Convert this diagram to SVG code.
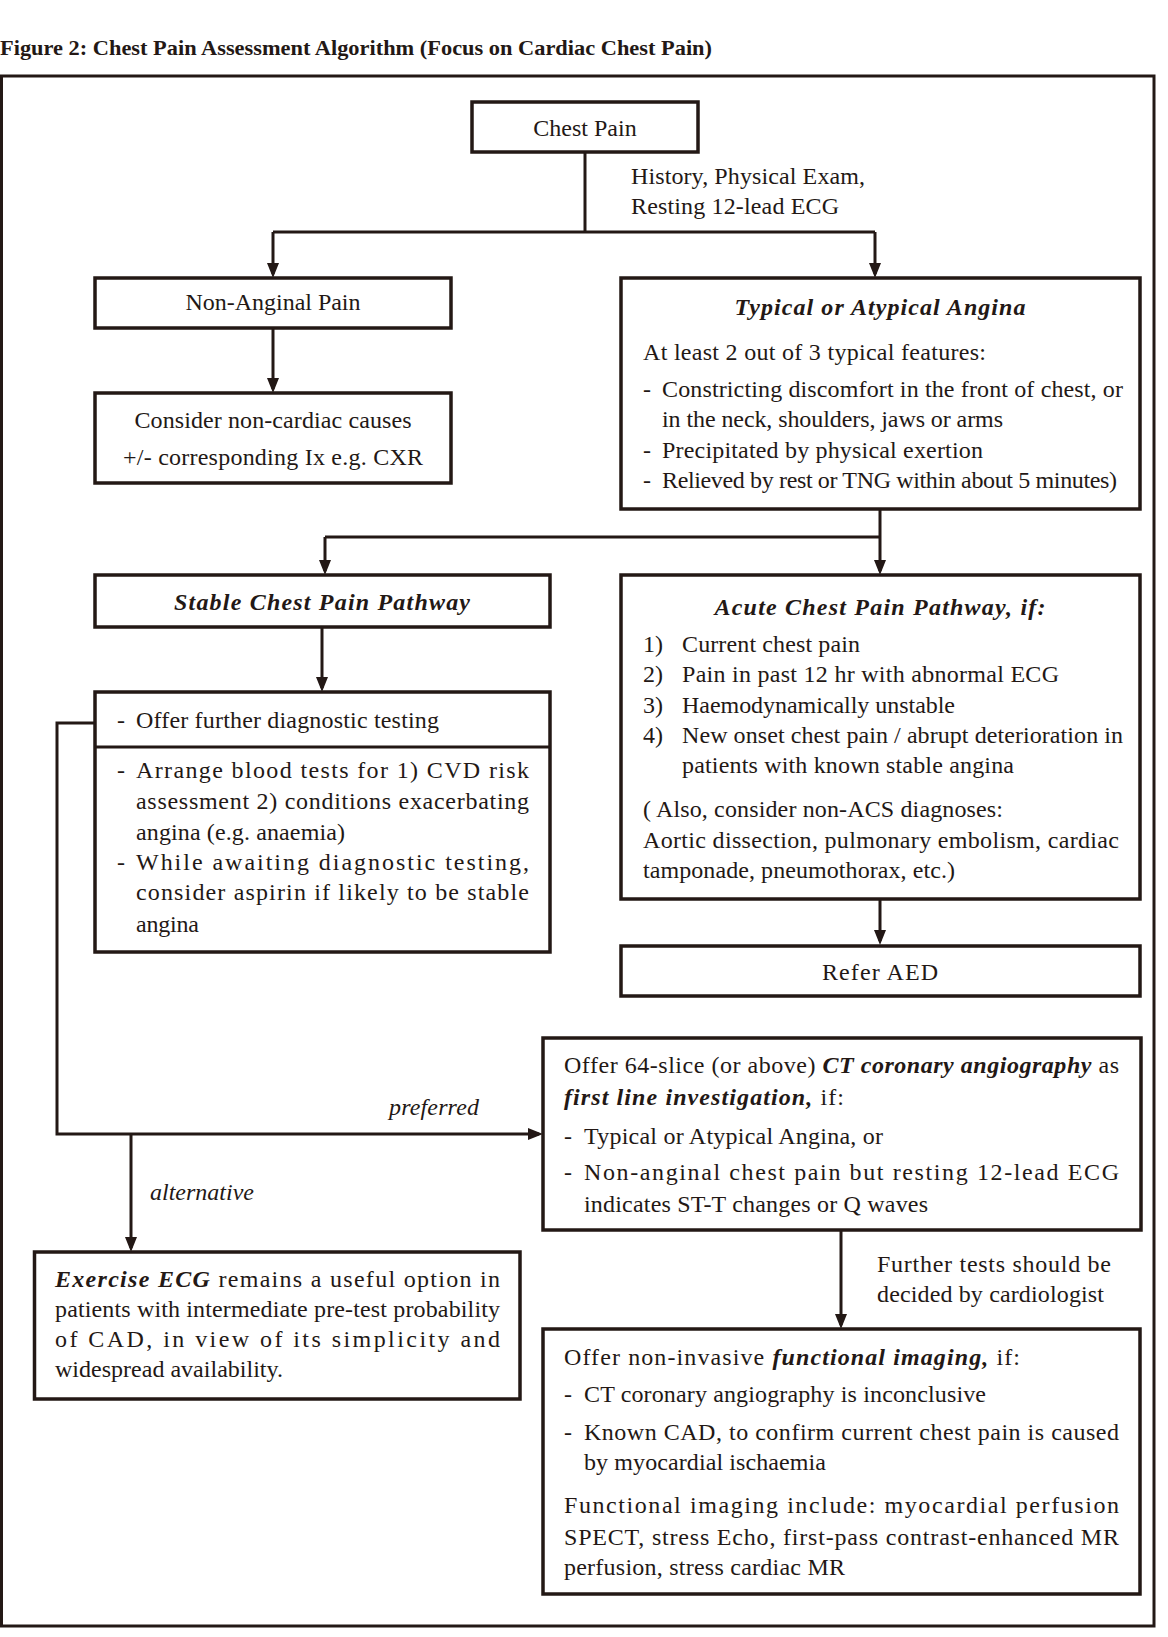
<svg xmlns="http://www.w3.org/2000/svg" width="1168" height="1637" viewBox="0 0 1168 1637">
<defs>
<style>
.t{font-family:"Liberation Serif","Times New Roman",serif;font-size:24px;fill:#231815}
.c{text-anchor:middle}
.bi{font-weight:bold;font-style:italic}
.i{font-style:italic}
.box{fill:#fff;stroke:#231815;stroke-width:3.5}
.conn{fill:none;stroke:#231815;stroke-width:3}
.frame{fill:none;stroke:#231815;stroke-width:3}
</style>
<marker id="arr" viewBox="0 0 15 12" refX="11" refY="6" markerWidth="15" markerHeight="12" markerUnits="userSpaceOnUse" orient="auto">
<path d="M0,0 L15,6 L0,12 Z" fill="#231815"/>
</marker>
</defs>
<rect width="1168" height="1637" fill="#fff"/>
<text class="t" x="0" y="55" style="font-size:21px;font-weight:bold" textLength="712" lengthAdjust="spacingAndGlyphs">Figure 2: Chest Pain Assessment Algorithm (Focus on Cardiac Chest Pain)</text>
<rect class="frame" x="1.5" y="76" width="1152.5" height="1550"/>

<g id="connectors">
<path class="conn" d="M585,152 V232"/>
<path class="conn" d="M273,232 H875"/>
<path class="conn" d="M273,232 V274" marker-end="url(#arr)"/>
<path class="conn" d="M875,232 V274" marker-end="url(#arr)"/>
<path class="conn" d="M273,328 V389" marker-end="url(#arr)"/>
<path class="conn" d="M880,509 V571" marker-end="url(#arr)"/>
<path class="conn" d="M325,537 H880"/>
<path class="conn" d="M325,537 V571" marker-end="url(#arr)"/>
<path class="conn" d="M322,627 V688" marker-end="url(#arr)"/>
<path class="conn" d="M95,723 H57 V1134 H539" marker-end="url(#arr)"/>
<path class="conn" d="M131,1134 V1248" marker-end="url(#arr)"/>
<path class="conn" d="M880,899 V941" marker-end="url(#arr)"/>
<path class="conn" d="M841,1230 V1325" marker-end="url(#arr)"/>
<text class="t" x="631" y="184" textLength="234">History, Physical Exam,</text>
<text class="t" x="631" y="214" textLength="208">Resting 12-lead ECG</text>
<text class="t i" x="389" y="1115" textLength="90">preferred</text>
<text class="t i" x="150" y="1200" textLength="104">alternative</text>
<text class="t" x="877" y="1272" textLength="234" lengthAdjust="spacing">Further tests should be</text>
<text class="t" x="877" y="1302" textLength="227">decided by cardiologist</text>
</g>

<g id="chest-pain">
<rect class="box" x="472" y="102" width="226" height="50"/>
<text class="t c" x="585" y="136">Chest Pain</text>
</g>

<g id="non-anginal">
<rect class="box" x="95" y="278" width="356" height="50"/>
<text class="t c" x="273" y="310" textLength="175">Non-Anginal Pain</text>
</g>

<g id="non-cardiac">
<rect class="box" x="95" y="393" width="356" height="90"/>
<text class="t c" x="273" y="428" textLength="277">Consider non-cardiac causes</text>
<text class="t c" x="273" y="465" textLength="300">+/- corresponding Ix e.g. CXR</text>
</g>

<g id="typical-angina">
<rect class="box" x="621" y="278" width="519" height="231"/>
<text class="t c bi" x="880" y="315" textLength="291">Typical or Atypical Angina</text>
<text class="t" x="643" y="360" textLength="343">At least 2 out of 3 typical features:</text>
<text class="t" x="643" y="397">-</text>
<text class="t" x="662" y="397" textLength="461" lengthAdjust="spacing">Constricting discomfort in the front of chest, or</text>
<text class="t" x="662" y="427" textLength="341">in the neck, shoulders, jaws or arms</text>
<text class="t" x="643" y="458">-</text>
<text class="t" x="662" y="458" textLength="321">Precipitated by physical exertion</text>
<text class="t" x="643" y="488">-</text>
<text class="t" x="662" y="488" textLength="455">Relieved by rest or TNG within about 5 minutes)</text>
</g>

<g id="stable-pathway">
<rect class="box" x="95" y="575" width="455" height="52"/>
<text class="t c bi" x="322" y="610" textLength="296">Stable Chest Pain Pathway</text>
</g>

<g id="diagnostic-testing">
<rect class="box" x="95" y="692" width="455" height="260"/>
<path class="conn" d="M95,747 H550"/>
<text class="t" x="117" y="728">-</text>
<text class="t" x="136" y="728" textLength="303">Offer further diagnostic testing</text>
<text class="t" x="117" y="778">-</text>
<text class="t" x="136" y="778" textLength="393" lengthAdjust="spacing">Arrange blood tests for 1) CVD risk</text>
<text class="t" x="136" y="809" textLength="393" lengthAdjust="spacing">assessment 2) conditions exacerbating</text>
<text class="t" x="136" y="840" textLength="209">angina (e.g. anaemia)</text>
<text class="t" x="117" y="870">-</text>
<text class="t" x="136" y="870" textLength="393" lengthAdjust="spacing">While awaiting diagnostic testing,</text>
<text class="t" x="136" y="900" textLength="393" lengthAdjust="spacing">consider aspirin if likely to be stable</text>
<text class="t" x="136" y="932" textLength="63">angina</text>
</g>

<g id="acute-pathway">
<rect class="box" x="621" y="575" width="519" height="324"/>
<text class="t c bi" x="880" y="615" textLength="331">Acute Chest Pain Pathway, if:</text>
<text class="t" x="643" y="652">1)</text>
<text class="t" x="682" y="652" textLength="178">Current chest pain</text>
<text class="t" x="643" y="682">2)</text>
<text class="t" x="682" y="682" textLength="377">Pain in past 12 hr with abnormal ECG</text>
<text class="t" x="643" y="713">3)</text>
<text class="t" x="682" y="713" textLength="273">Haemodynamically unstable</text>
<text class="t" x="643" y="743">4)</text>
<text class="t" x="682" y="743" textLength="441" lengthAdjust="spacing">New onset chest pain / abrupt deterioration in</text>
<text class="t" x="682" y="773" textLength="332">patients with known stable angina</text>
<text class="t" x="643" y="817" textLength="360">( Also, consider non-ACS diagnoses:</text>
<text class="t" x="643" y="848" textLength="476" lengthAdjust="spacing">Aortic dissection, pulmonary embolism, cardiac</text>
<text class="t" x="643" y="878" textLength="312">tamponade, pneumothorax, etc.)</text>
</g>

<g id="refer-aed">
<rect class="box" x="621" y="946" width="519" height="50"/>
<text class="t c" x="880" y="980" textLength="116">Refer AED</text>
</g>

<g id="ct-angiography">
<rect class="box" x="543" y="1038" width="598" height="192"/>
<text class="t" x="564" y="1073" textLength="555" lengthAdjust="spacing">Offer 64-slice (or above) <tspan class="bi">CT coronary angiography</tspan> as</text>
<text class="t" x="564" y="1105" textLength="280"><tspan class="bi">first line investigation,</tspan> if:</text>
<text class="t" x="564" y="1144">-</text>
<text class="t" x="584" y="1144" textLength="299">Typical or Atypical Angina, or</text>
<text class="t" x="564" y="1180">-</text>
<text class="t" x="584" y="1180" textLength="535" lengthAdjust="spacing">Non-anginal chest pain but resting 12-lead ECG</text>
<text class="t" x="584" y="1212" textLength="344">indicates ST-T changes or Q waves</text>
</g>

<g id="exercise-ecg">
<rect class="box" x="34.5" y="1252" width="485.5" height="147"/>
<text class="t" x="55" y="1287" textLength="445" lengthAdjust="spacing"><tspan class="bi">Exercise ECG</tspan> remains a useful option in</text>
<text class="t" x="55" y="1317" textLength="445" lengthAdjust="spacing">patients with intermediate pre-test probability</text>
<text class="t" x="55" y="1347" textLength="445" lengthAdjust="spacing">of CAD, in view of its simplicity and</text>
<text class="t" x="55" y="1377" textLength="228">widespread availability.</text>
</g>

<g id="functional-imaging">
<rect class="box" x="543" y="1329" width="597" height="265"/>
<text class="t" x="564" y="1365" textLength="456">Offer non-invasive <tspan class="bi">functional imaging,</tspan> if:</text>
<text class="t" x="564" y="1402">-</text>
<text class="t" x="584" y="1402" textLength="402">CT coronary angiography is inconclusive</text>
<text class="t" x="564" y="1440">-</text>
<text class="t" x="584" y="1440" textLength="535" lengthAdjust="spacing">Known CAD, to confirm current chest pain is caused</text>
<text class="t" x="584" y="1470" textLength="242">by myocardial ischaemia</text>
<text class="t" x="564" y="1513" textLength="555" lengthAdjust="spacing">Functional imaging include: myocardial perfusion</text>
<text class="t" x="564" y="1545" textLength="555" lengthAdjust="spacing">SPECT, stress Echo, first-pass contrast-enhanced MR</text>
<text class="t" x="564" y="1575" textLength="281">perfusion, stress cardiac MR</text>
</g>
</svg>
